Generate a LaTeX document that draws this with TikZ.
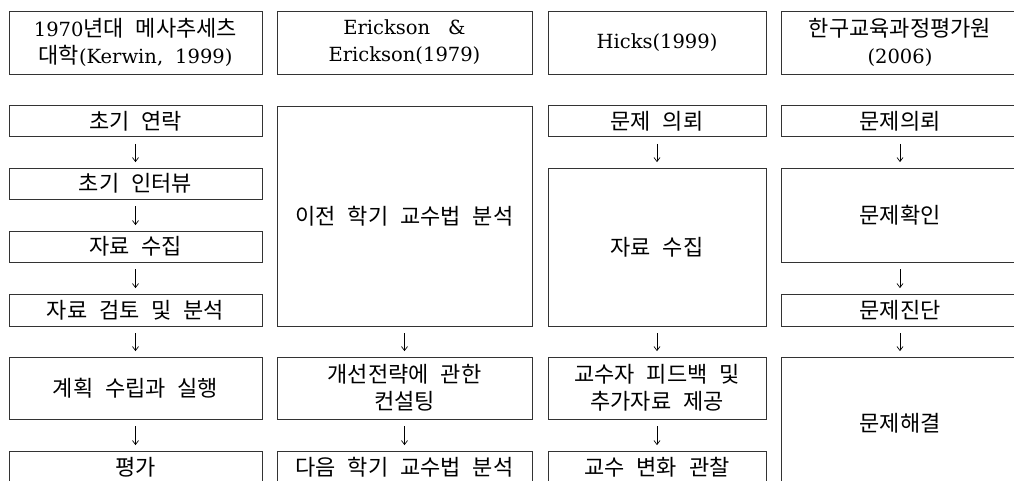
\documentclass[tikz,border=0pt]{standalone}
\usepackage{fontspec}
\setmainfont{DejaVu Serif}
\newfontfamily\krfont[WordSpace=2.4]{Noto Sans CJK KR}
\newcommand\ko[1]{{\krfont\fontsize{22}{27}\selectfont #1}}
\usetikzlibrary{arrows.meta}
\begin{document}
\begin{tikzpicture}[x=1pt,y=-1pt,
  box/.style={draw=black!80, line width=0.8pt, inner sep=0pt, align=center,
    font=\fontsize{19.5}{27}\selectfont},
  flow/.style={-{Straight Barb[length=4pt,width=6pt]}, line width=0.7pt,
    shorten <=7pt, shorten >=5.5pt}]
\useasboundingbox (0,0) rectangle (1014,481);
\clip (0,0) rectangle (1014,481);
% headers
\node[box, minimum width=253pt, minimum height=63pt] (h1) at (135.5,42.5)
  {1970\ko{년대 메사추세츠}\\\ko{대학}(Kerwin,\hspace{12pt}1999)};
\node[box, minimum width=255pt, minimum height=63pt] (h2) at (404.5,42.5)
  {Erickson\hspace{18pt}\&\\Erickson(1979)};
\node[box, minimum width=218pt, minimum height=63pt] (h3) at (657,42.5)
  {Hicks(1999)};
\node[box, minimum width=238pt, minimum height=63pt] (h4) at (900,42.5)
  {\ko{한구교육과정평가원}\\(2006)};
% column 1
\node[box, minimum width=253pt, minimum height=31pt] (a1) at (135.5,121) {\ko{초기 연락}};
\node[box, minimum width=253pt, minimum height=31pt] (a2) at (135.5,183.5) {\ko{초기 인터뷰}};
\node[box, minimum width=253pt, minimum height=31pt] (a3) at (135.5,246.5) {\ko{자료 수집}};
\node[box, minimum width=253pt, minimum height=32pt] (a4) at (135.5,310) {\ko{자료 검토 및 분석}};
\node[box, minimum width=253pt, minimum height=62pt] (a5) at (135.5,388) {\ko{계획 수립과 실행}};
\node[box, minimum width=253pt, minimum height=33pt] (a6) at (135.5,467.5) {\ko{평가}};
% column 2
\node[box, minimum width=255pt, minimum height=220pt] (b1) at (404.5,216) {\ko{이전 학기 교수법 분석}};
\node[box, minimum width=255pt, minimum height=62pt] (b2) at (404.5,388) {\ko{개선전략에 관한}\\\ko{컨설팅}};
\node[box, minimum width=255pt, minimum height=33pt] (b3) at (404.5,467.5) {\ko{다음 학기 교수법 분석}};
% column 3
\node[box, minimum width=218pt, minimum height=31pt] (c1) at (657,121) {\ko{문제 의뢰}};
\node[box, minimum width=218pt, minimum height=158pt] (c2) at (657,247) {\ko{자료 수집}};
\node[box, minimum width=218pt, minimum height=62pt] (c3) at (657,388) {\ko{교수자 피드백 및}\\\ko{추가자료 제공}};
\node[box, minimum width=218pt, minimum height=33pt] (c4) at (657,467.5) {\ko{교수 변화 관찰}};
% column 4
\node[box, minimum width=238pt, minimum height=31pt] (d1) at (900,121) {\ko{문제의뢰}};
\node[box, minimum width=238pt, minimum height=94pt] (d2) at (900,215) {\ko{문제확인}};
\node[box, minimum width=238pt, minimum height=32pt] (d3) at (900,310) {\ko{문제진단}};
\node[box, minimum width=238pt, minimum height=132pt] (d4) at (900,423) {\ko{문제해결}};
% arrows
\foreach \s/\t in {a1/a2,a2/a3,a3/a4,a4/a5,a5/a6,b1/b2,b2/b3,c1/c2,c2/c3,c3/c4,d1/d2,d2/d3,d3/d4}
  \draw[flow] (\s.south) -- (\t.north);
\end{tikzpicture}
\end{document}
